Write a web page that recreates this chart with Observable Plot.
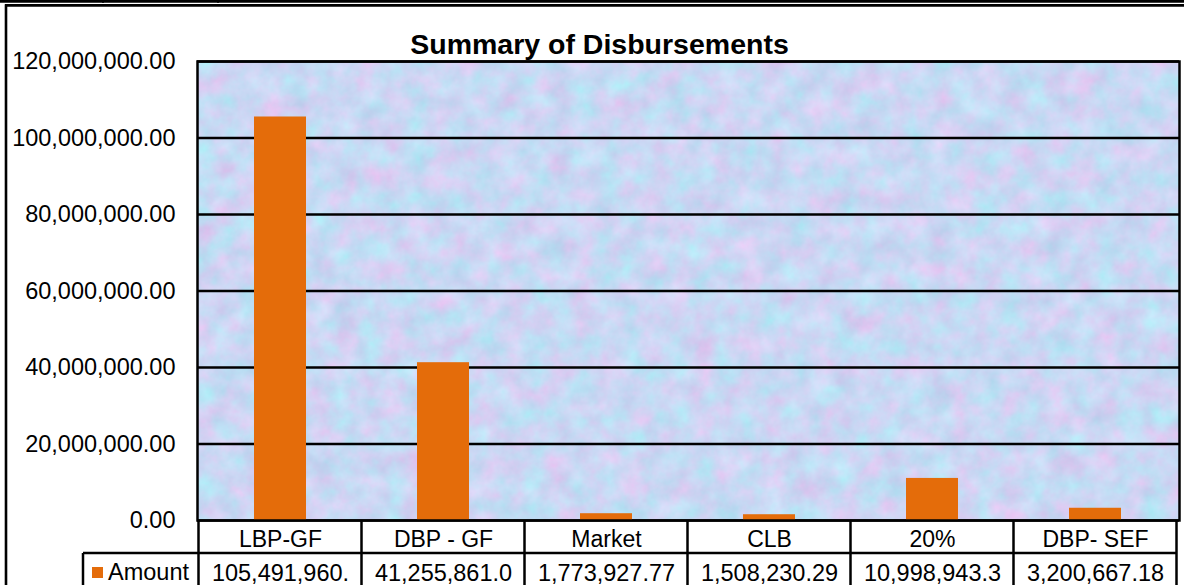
<!DOCTYPE html>
<html><head><meta charset="utf-8">
<script src="https://cdn.jsdelivr.net/npm/d3@7"></script>
<script src="https://cdn.jsdelivr.net/npm/@observablehq/plot@0.6"></script>
<style>
html,body{margin:0;padding:0;background:#fff;}
#chart{width:1184px;height:585px;overflow:hidden;position:relative;}
#chart svg{display:block;}
</style></head><body><div id="chart"></div>
<script>
const categories = ["LBP-GF", "DBP - GF", "Market", "CLB", "20%", "DBP- SEF"];
const amounts = [105491960, 41255861.0, 1773927.77, 1508230.29, 10998943.3, 3200667.18];
const amountLabels = ["105,491,960.", "41,255,861.0", "1,773,927.77", "1,508,230.29", "10,998,943.3", "3,200,667.18"];
const yTicks = [0, 20000000, 40000000, 60000000, 80000000, 100000000, 120000000];
const seriesName = "Amount";
const chartTitle = "Summary of Disbursements";

const data = categories.map((c, i) => ({category: c, amount: amounts[i], label: amountLabels[i]}));
const FONT = "'Liberation Sans', Arial, Helvetica, sans-serif";
const ORANGE = "#E46C0A";

function num(v) { return typeof v === "function" ? v() : v; }

// textured plot-area background
function background(index, scales, values, dims) {
  const {width, height, marginLeft, marginRight, marginTop, marginBottom} = dims;
  const x0 = marginLeft, y0 = marginTop, w = width - marginLeft - marginRight, h = height - marginTop - marginBottom;
  const g = d3.create("svg:g");
  const f = g.append("defs").append("filter").attr("id", "marble")
    .attr("filterUnits", "userSpaceOnUse").attr("x", x0).attr("y", y0).attr("width", w).attr("height", h)
    .attr("color-interpolation-filters", "sRGB");
  f.append("feTurbulence").attr("type", "fractalNoise").attr("baseFrequency", "0.042").attr("numOctaves", 4).attr("seed", 11).attr("result", "n");
  f.append("feColorMatrix").attr("in", "n").attr("type", "matrix").attr("values",
    "0.28 0 -0.08 0 0.69  " +
    "-0.14 0.10 -0.08 0 0.905  " +
    "0 0.04 -0.06 0 0.965  " +
    "0 0 0 0 1");
  g.append("rect").attr("x", x0).attr("y", y0).attr("width", w).attr("height", h)
    .attr("fill", "#c8dcf5").attr("filter", "url(#marble)");
  return g.node();
}

// data table below the plot area
function table(index, scales, values, dims) {
  const {width, height, marginLeft, marginRight, marginBottom} = dims;
  const x = scales.x;
  const step = num(x.step), bw = num(x.bandwidth);
  const top = height - marginBottom, row1 = top + 33, bottom = height + 5;
  const legendLeft = marginLeft - 114;
  const g = d3.create("svg:g");
  const lines = g.append("g").attr("stroke", "black").attr("stroke-width", 2.5).attr("fill", "none");
  const bounds = categories.map(c => x(c) - (step - bw) / 2);
  bounds.push(x(categories[categories.length - 1]) + bw + (step - bw) / 2);
  bounds.forEach(b => lines.append("line").attr("x1", b).attr("x2", b).attr("y1", top).attr("y2", bottom));
  lines.append("line").attr("x1", legendLeft).attr("x2", bounds[bounds.length - 1]).attr("y1", row1).attr("y2", row1);
  lines.append("line").attr("x1", legendLeft).attr("x2", legendLeft).attr("y1", row1).attr("y2", bottom);
  // legend key
  g.append("rect").attr("x", legendLeft + 9).attr("y", row1 + 14).attr("width", 11).attr("height", 11).attr("fill", ORANGE);
  g.append("text").attr("x", legendLeft + 25).attr("y", row1 + 27).attr("font-size", 23.5)
    .attr("text-anchor", "start").attr("font-family", FONT).attr("fill", "black").text(seriesName);
  return g.node();
}

// outer chart border
function decor(index, scales, values, dims) {
  const {width, height} = dims;
  const g = d3.create("svg:g").attr("stroke", "black").attr("fill", "none");
  g.append("line").attr("x1", 0).attr("x2", width).attr("y1", 1.3).attr("y2", 1.3).attr("stroke-width", 3);
  g.append("line").attr("x1", 103).attr("x2", 103).attr("y1", 0).attr("y2", 3).attr("stroke-width", 1.5);
  g.append("line").attr("x1", 218).attr("x2", 218).attr("y1", 0).attr("y2", 3).attr("stroke-width", 1.5);
  g.append("line").attr("x1", 5).attr("x2", width).attr("y1", 5.4).attr("y2", 5.4).attr("stroke-width", 2.6);
  g.append("line").attr("x1", 6).attr("x2", 6).attr("y1", 4.2).attr("y2", height + 5).attr("stroke-width", 2.6);
  return g.node();
}

const plot = Plot.plot({
  width: 1184,
  height: 585,
  marginLeft: 197,
  marginRight: 5,
  marginTop: 61,
  marginBottom: 65,
  style: {fontFamily: FONT, background: "white", overflow: "visible", color: "black"},
  x: {domain: categories, paddingInner: 0.68, paddingOuter: 0.34, axis: null, label: null},
  y: {domain: [0, 120000000], axis: null, label: null},
  marks: [
    background,
    Plot.ruleY(yTicks, {stroke: "black", strokeWidth: 2.5}),
    Plot.barY(data, {x: "category", y: "amount", fill: ORANGE}),
    Plot.frame({stroke: "black", strokeWidth: 2.5}),
    Plot.axisY({ticks: yTicks, tickFormat: d3.format(",.2f"), tickSize: 0, tickPadding: 22, fontSize: 23.5, anchor: "left", fill: "black", label: null}),
    table,
    Plot.text(data, {x: "category", text: "category", frameAnchor: "bottom", lineAnchor: "middle", dy: 19, fontSize: 23, fill: "black"}),
    Plot.text(data, {x: "category", text: "label", frameAnchor: "bottom", lineAnchor: "middle", dy: 52.5, fontSize: 23.5, fill: "black"}),
    Plot.text([chartTitle], {text: d => d, frameAnchor: "top", lineAnchor: "middle", dx: -89, dy: -17, fontSize: 28.5, fontWeight: "bold", fill: "black"}),
    decor
  ]
});
document.getElementById("chart").appendChild(plot);
</script>
</body></html>
